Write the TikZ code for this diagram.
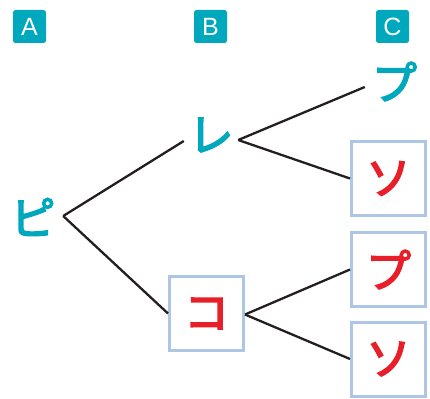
\documentclass[tikz,border=0pt]{standalone}
\usepackage{fontspec}
\newfontfamily\jp{Noto Sans CJK JP}[FakeBold=3.5]
\newfontfamily\lat{Liberation Sans}
\definecolor{tcyan}{RGB}{0,168,190}
\definecolor{tred}{RGB}{232,30,40}
\definecolor{boxblue}{RGB}{174,198,230}
\definecolor{lineblack}{RGB}{35,31,32}
\begin{document}
\begin{tikzpicture}[x=1pt,y=-1pt,
  badge/.style={fill=tcyan, text=white, rounded corners=2.5pt, minimum size=33pt, inner sep=0pt, font=\lat\fontsize{25}{25}\selectfont},
  cytext/.style={text=tcyan, inner sep=0pt, font=\jp\fontsize{45}{45}\selectfont},
  answerbox/.style={draw=boxblue, line width=3pt, minimum size=74pt, inner sep=0pt, text=tred, font=\jp\fontsize{45}{45}\selectfont},
  branch/.style={draw=lineblack, line width=2.3pt}]
\useasboundingbox (0,0) rectangle (430,398);
\node[badge] (bA) at (29.5,26.5) {A};
\node[badge] (bB) at (210.5,26.5) {B};
\node[badge] (bC) at (392.5,26.5) {C};
\node[cytext, minimum width=60pt] (pi) at (33,217) {ピ};
\node[cytext, minimum width=54pt] (re) at (211,135) {レ};
\node[cytext, minimum width=59pt] (pu1) at (394.5,81.5) {プ};
\node[answerbox] (ko) at (206.5,313.5) {コ};
\node[answerbox] (so1) at (388.5,178.5) {ソ};
\node[answerbox] (pu2) at (388.5,269.5) {プ};
\node[answerbox] (so2) at (388.5,359) {ソ};
\draw[branch] ([yshift=1pt]pi.east) -- ([yshift=-6pt]re.west);
\draw[branch] ([yshift=1pt]pi.east) -- (ko.west);
\draw[branch] ([yshift=-5pt]re.east) -- ([yshift=-5.5pt]pu1.west);
\draw[branch] ([yshift=-5pt]re.east) -- (so1.west);
\draw[branch] ([yshift=-1pt]ko.east) -- (pu2.west);
\draw[branch] ([yshift=-1pt]ko.east) -- (so2.west);
\end{tikzpicture}
\end{document}
